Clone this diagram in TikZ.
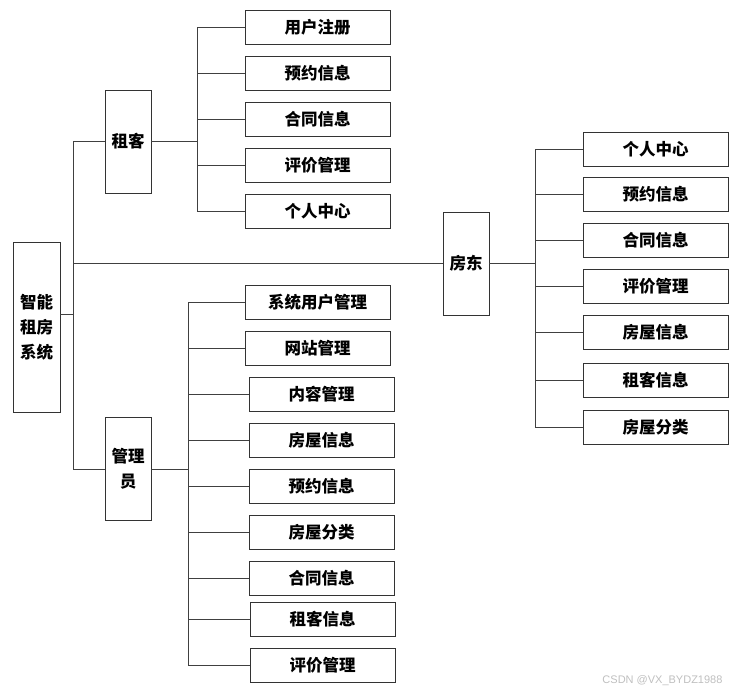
\documentclass[tikz,border=0pt]{standalone}
\usepackage{fontspec}
\newfontfamily\cjkfont{Noto Sans CJK SC}
\newfontfamily\markfont{Liberation Sans}

\begin{document}
\begin{tikzpicture}[x=1pt,y=-1pt]

\tikzset{box/.style = {shape=rectangle,draw=black!80,line width=0.9pt,inner sep=0pt,minimum width=145pt,minimum height=34pt,align=center,font=\cjkfont\bfseries\fontsize{16.5}{25}\selectfont}}
\tikzset{role/.style = {box,minimum width=46pt,minimum height=103pt}}
\tikzset{link/.style = {draw=black!75,line width=0.9pt}}
\useasboundingbox (0,0) rectangle (743,694);
%roles
\node[role, minimum width=47pt, minimum height=170pt] (sys) at (36.5,327) {智能\\租房\\系统};
\node[role] (tenant) at (128,141.5) {租客};
\node[role] (admin) at (128,469) {管理\\员};
\node[role] (landlord) at (466,263.5) {房东};
%tenant modules
\node[box] (t1) at (317.5,27) {用户注册};
\node[box] (t2) at (317.5,73) {预约信息};
\node[box] (t3) at (317.5,119) {合同信息};
\node[box] (t4) at (317.5,165) {评价管理};
\node[box] (t5) at (317.5,211) {个人中心};
%admin modules
\node[box] (a1) at (317.5,302.5) {系统用户管理};
\node[box] (a2) at (317.5,348.5) {网站管理};
\node[box] (a3) at (321.5,394.5) {内容管理};
\node[box] (a4) at (321.5,440.5) {房屋信息};
\node[box] (a5) at (321.5,486) {预约信息};
\node[box] (a6) at (321.5,532) {房屋分类};
\node[box] (a7) at (321.5,578) {合同信息};
\node[box] (a8) at (322.5,619) {租客信息};
\node[box] (a9) at (322.5,665.5) {评价管理};
%landlord modules
\node[box] (l1) at (655.5,149) {个人中心};
\node[box] (l2) at (655.5,194.5) {预约信息};
\node[box] (l3) at (655.5,240.5) {合同信息};
\node[box] (l4) at (655.5,286.5) {评价管理};
\node[box] (l5) at (655.5,332.5) {房屋信息};
\node[box] (l6) at (655.5,380.5) {租客信息};
\node[box] (l7) at (655.5,427) {房屋分类};
%buses
\coordinate (rb) at (73,314);
\coordinate (tb) at (197,141.5);
\coordinate (ab) at (188,469);
\coordinate (lb) at (535,263.5);
\draw[link] (rb -| sys.east) -- (rb);
\draw[link] (rb) |- (tenant);
\draw[link] (rb) |- (admin);
\draw[link] (rb) |- (landlord);
\draw[link] (tenant) -- (tb);
\draw[link] (tb) |- (t1);
\draw[link] (tb) |- (t2);
\draw[link] (tb) |- (t3);
\draw[link] (tb) |- (t4);
\draw[link] (tb) |- (t5);
\draw[link] (admin) -- (ab);
\draw[link] (ab) |- (a1);
\draw[link] (ab) |- (a2);
\draw[link] (ab) |- (a3);
\draw[link] (ab) |- (a4);
\draw[link] (ab) |- (a5);
\draw[link] (ab) |- (a6);
\draw[link] (ab) |- (a7);
\draw[link] (ab) |- (a8);
\draw[link] (ab) |- (a9);
\draw[link] (landlord) -- (lb);
\draw[link] (lb) |- (l1);
\draw[link] (lb) |- (l2);
\draw[link] (lb) |- (l3);
\draw[link] (lb) |- (l4);
\draw[link] (lb) |- (l5);
\draw[link] (lb) |- (l6);
\draw[link] (lb) |- (l7);
%watermark
\node[anchor=east, text=black!25, font=\markfont\fontsize{11}{11}\selectfont] (mark) at (726,681) {CSDN @VX\_BYDZ1988};

\end{tikzpicture}
\end{document}
